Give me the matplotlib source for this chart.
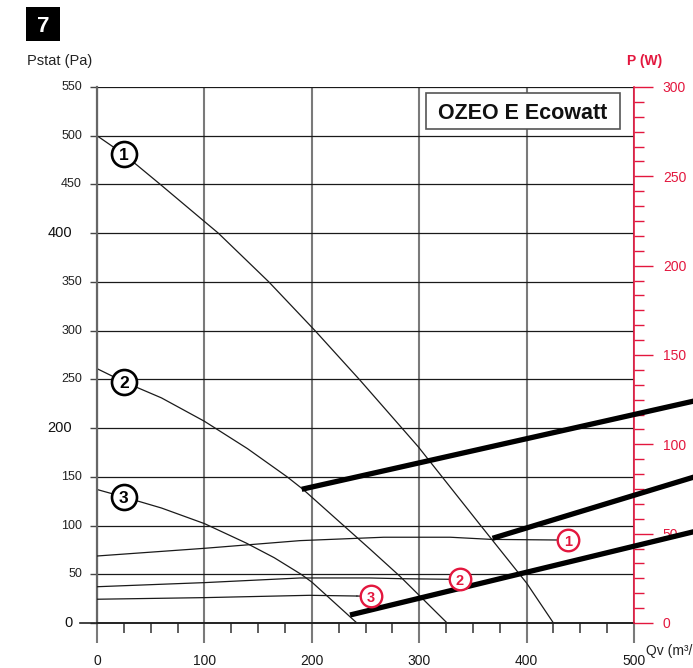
import numpy as np
import matplotlib
matplotlib.use("Agg")
import matplotlib.pyplot as plt
from matplotlib.ticker import MultipleLocator
from matplotlib.patches import Rectangle

plt.rcParams['font.family'] = ['Liberation Sans', 'DejaVu Sans']

# ---- fan pressure curves (Qv in m3/h, Pstat in Pa) ----
curve1_q = [0, 25, 59, 100, 113, 160, 203, 245, 299, 358, 400, 425]
curve1_p = [500, 481, 450, 412, 400, 350, 300, 249, 181, 99, 41, 0]
curve2_q = [0, 26, 60, 100, 110, 140, 177, 192, 254, 282, 326]
curve2_p = [261, 247, 231, 207, 200, 179, 150, 137, 76, 48, 0]
curve3_q = [0, 26, 60, 100, 139, 165, 190, 200, 242]
curve3_p = [137, 129, 118, 102, 82, 67, 50, 42, 0]

# ---- absorbed power curves (P in W) ----
power1_q = [0, 100, 189, 267, 329, 367]
power1_w = [37.5, 41.8, 46.1, 48.0, 48.0, 46.8]
power2_q = [0, 100, 189, 254, 283]
power2_w = [20.3, 22.6, 25.2, 25.2, 24.8]
power3_q = [0, 100, 198, 242]
power3_w = [13.3, 14.2, 15.5, 15.1]

# ---- thick system lines (Qv, Pstat) ----
lineA_q = [190.6, 558]
lineA_p = [137.2, 228.3]
lineB_q = [368.3, 558]
lineB_p = [86.9, 150.5]
lineC_q = [235.6, 558]
lineC_p = [8.2, 94.3]

x_ticks = [0, 100, 200, 300, 400, 500]
y_ticks = [0, 50, 100, 150, 200, 250, 300, 350, 400, 450, 500, 550]
y_big = [0, 200, 400]
w_ticks = [0, 50, 100, 150, 200, 250, 300]

RED = '#e3173e'
W, H = 693, 668


def fx(x):
    return x / W


def fy(y):
    return 1 - y / H


fig = plt.figure(figsize=(W / 100, H / 100), dpi=100)
ax = fig.add_axes([fx(97), 45 / H, 537 / W, 536 / H])
ax.set_xlim(0, 500)
ax.set_ylim(0, 550)

# grid
ax.set_xticks(x_ticks)
ax.set_yticks(y_ticks)
ax.xaxis.set_minor_locator(MultipleLocator(25))
ax.grid(axis='x', which='major', color='#7a7a7a', lw=1.5, zorder=0)
ax.grid(axis='y', which='major', color='#1a1a1a', lw=0.9, zorder=0)
ax.set_axisbelow(True)

ax.tick_params(axis='x', which='major', direction='out', length=14.4, width=1.5,
               color='#7a7a7a', pad=8.0, labelsize=10, labelcolor='#1a1a1a')
ax.tick_params(axis='x', which='minor', direction='out', length=7.2, width=1.1,
               color='#333333')
ax.tick_params(axis='y', which='major', direction='out', length=5, width=1.0,
               color='#444444', labelleft=False)

for s in ['top', 'right']:
    ax.spines[s].set_visible(False)
ax.spines['left'].set_color('#666666')
ax.spines['left'].set_linewidth(1.6)
ax.spines['bottom'].set_color('#222222')
ax.spines['bottom'].set_linewidth(1.4)

# longer base line at zero pressure
ax.plot([-16, 0], [0, 0], color='#222222', lw=1.2, clip_on=False)

# left tick labels (three emphasised values)
ytrans = ax.get_yaxis_transform()
for v in y_ticks:
    if v in y_big:
        ax.text(-0.046, v, str(v), transform=ytrans, ha='right', va='center',
                fontsize=10.5, color='#111111')
    else:
        ax.text(-0.028, v, str(v), transform=ytrans, ha='right', va='center',
                fontsize=9, color='#222222')

# pressure curves
for q, p in [(curve1_q, curve1_p), (curve2_q, curve2_p), (curve3_q, curve3_p)]:
    ax.plot(q, p, color='#1a1a1a', lw=0.9, zorder=2)

# numbered markers on the pressure curves
for n, (q, p) in enumerate([(curve1_q, curve1_p), (curve2_q, curve2_p),
                            (curve3_q, curve3_p)], start=1):
    yv = np.interp(25, q, p)
    ax.plot(25, yv, 'o', ms=18, mfc='white', mec='black', mew=1.9, zorder=5)
    ax.text(25, yv, str(n), ha='center', va='center_baseline', fontsize=12.5,
            fontweight='bold', color='black', zorder=6)

# power axis
ax2 = ax.twinx()
ax2.set_ylim(0, 300)
ax2.set_yticks(w_ticks)
ax2.yaxis.set_minor_locator(MultipleLocator(50 / 6))
ax2.tick_params(axis='y', which='major', direction='out', length=13.7, width=1.0,
                color=RED, labelcolor=RED, labelsize=10, pad=7)
ax2.tick_params(axis='y', which='minor', direction='out', length=7.2, width=1.0,
                color=RED)
for s in ['top', 'left', 'bottom']:
    ax2.spines[s].set_visible(False)
ax2.spines['right'].set_color(RED)
ax2.spines['right'].set_linewidth(1.2)

# thick system lines, running past the plot edge
for q, p in [(lineA_q, lineA_p), (lineB_q, lineB_p), (lineC_q, lineC_p)]:
    ax2.plot(q, p, color='black', lw=3.8, solid_capstyle='butt',
             transform=ax.transData, clip_on=False, zorder=4)

# power curves with their numbered red markers
label_pos = [(438.8, 46.4), (338, 24.4), (255, 14.9)]
for n, (q, w) in enumerate([(power1_q, power1_w), (power2_q, power2_w),
                            (power3_q, power3_w)], start=1):
    ax2.plot(q, w, color='#1a1a1a', lw=0.9, zorder=3)
    lx, ly = label_pos[n - 1]
    ax2.plot([q[-1], lx], [w[-1], ly], color='#1a1a1a', lw=0.9, zorder=3)
    ax2.plot(lx, ly, 'o', ms=15.5, mfc='white', mec=RED, mew=1.7, zorder=6)
    ax2.text(lx, ly, str(n), ha='center', va='center_baseline', fontsize=10.5,
             fontweight='bold', color=RED, zorder=7)

# headings
fig.add_artist(Rectangle((fx(26), fy(40.7)), 34.3 / W, 34 / H,
                         transform=fig.transFigure, fc='black', ec='none'))
fig.text(fx(43.2), fy(24), '7', color='white', fontsize=16, fontweight='bold',
         ha='center', va='center_baseline')
fig.text(fx(27), fy(65.5), 'Pstat (Pa)', fontsize=10.5, color='#222222',
         ha='left', va='baseline')
fig.text(fx(627), fy(65), 'P (W)', fontsize=10, color=RED, fontweight='bold',
         ha='left', va='baseline')
fig.text(fx(646), fy(655), 'Qv (m³/h)', fontsize=10, color='#222222',
         ha='left', va='baseline')

# model name box
fig.add_artist(Rectangle((fx(426), fy(129.3)), 194 / W, 36.6 / H,
                         transform=fig.transFigure, fc='white', ec='#555555',
                         lw=1.2, zorder=8))
fig.text(fx(523), fy(111), 'OZEO E Ecowatt', fontsize=15.5, fontweight='bold',
         color='#111111', ha='center', va='center_baseline', zorder=9)

fig.savefig('out.png', dpi=100)
